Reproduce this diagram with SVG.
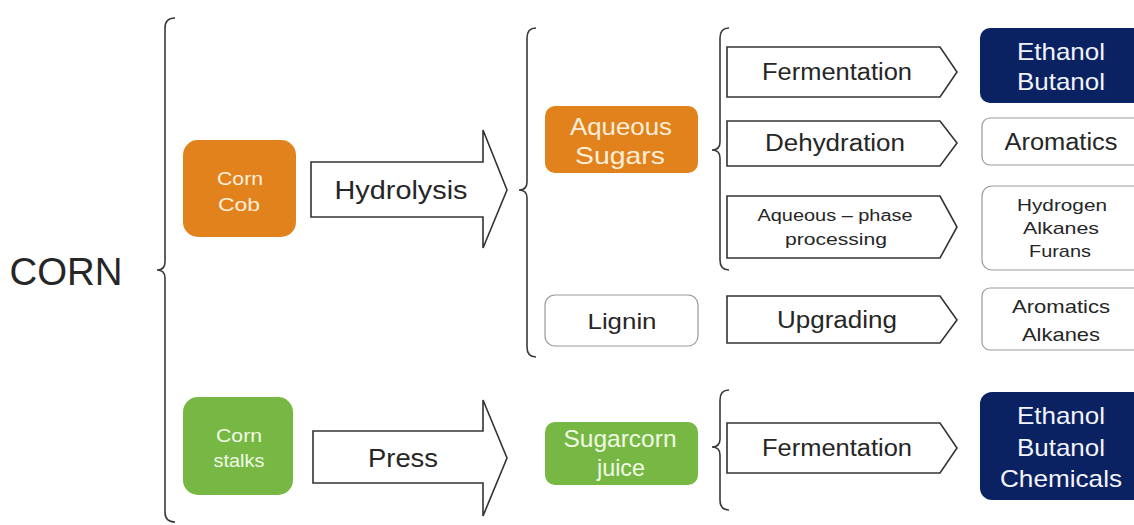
<svg xmlns="http://www.w3.org/2000/svg" width="1134" height="525" viewBox="0 0 1134 525">
<style>
text{font-family:"Liberation Sans",Arial,sans-serif;text-anchor:middle;fill:#262626}
.brace{fill:none;stroke:#3a3a3a;stroke-width:1.6}
.blk{fill:#fff;stroke:#333;stroke-width:1.6}
.orange{fill:#E2821C}
.green{fill:#76B843}
.navy{fill:#0B2262}
.wbox{fill:#fff;stroke:#9a9a9a;stroke-width:1.2}
.lt{fill:#FDEFDC}
.gt{fill:#F1FAE6}
.wt{fill:#F2F4FA}
</style>
<rect width="1134" height="525" fill="#fff"/>
<text x="66" y="285" textLength="113" lengthAdjust="spacingAndGlyphs" style="font-size:38px">CORN</text>
<g id="connectors">
<path class="brace" d="M175,18 Q165,18 165,28 L165,262 Q165,270 157,270 Q165,270 165,278 L165,512 Q165,522 175,522"/>
<path class="brace" d="M536,28 Q527,28 527,38 L527,182 Q527,190 519,190 Q527,190 527,198 L527,347 Q527,357 536,357"/>
<path class="brace" d="M729,28 Q720,28 720,38 L720,142 Q720,150 712,150 Q720,150 720,158 L720,260 Q720,270 729,270"/>
<path class="brace" d="M729,390 Q720,390 720,400 L720,439 Q720,447 712,447 Q720,447 720,455 L720,500 Q720,510 729,510"/>
</g>
<g id="hydrolysis"><polygon class="blk" points="311,162 483,162 483,130 507,190 483,248 483,217 311,217"/><text x="401" y="199" textLength="133" lengthAdjust="spacingAndGlyphs" style="font-size:25px">Hydrolysis</text></g>
<g id="press"><polygon class="blk" points="313,431 483,431 483,400 507,458 483,516 483,483 313,483"/><text x="403" y="467" textLength="70" lengthAdjust="spacingAndGlyphs" style="font-size:25px">Press</text></g>
<g id="corncob"><rect class="orange" x="183" y="140" width="113" height="97" rx="15"/><text class="lt" x="240" y="185" textLength="46" lengthAdjust="spacingAndGlyphs" style="font-size:19px">Corn</text><text class="lt" x="239" y="211" textLength="42" lengthAdjust="spacingAndGlyphs" style="font-size:19px">Cob</text></g>
<g id="cornstalks"><rect class="green" x="183" y="397" width="110" height="98" rx="15"/><text class="gt" x="239" y="442" textLength="46" lengthAdjust="spacingAndGlyphs" style="font-size:19px">Corn</text><text class="gt" x="239" y="467" textLength="51" lengthAdjust="spacingAndGlyphs" style="font-size:19px">stalks</text></g>
<g id="aqueoussugars"><rect class="orange" x="545" y="106" width="153" height="67" rx="10"/><text class="lt" x="621" y="135" textLength="102" lengthAdjust="spacingAndGlyphs" style="font-size:24px">Aqueous</text><text class="lt" x="620" y="164" textLength="90" lengthAdjust="spacingAndGlyphs" style="font-size:24px">Sugars</text></g>
<g id="lignin"><rect class="wbox" x="545" y="295" width="153" height="51" rx="10"/><text x="622" y="329" textLength="69" lengthAdjust="spacingAndGlyphs" style="font-size:22px">Lignin</text></g>
<g id="sugarcorn"><rect class="green" x="545" y="422" width="153" height="63" rx="10"/><text class="gt" x="620" y="447" textLength="113" lengthAdjust="spacingAndGlyphs" style="font-size:24px">Sugarcorn</text><text class="gt" x="621" y="476" textLength="48" lengthAdjust="spacingAndGlyphs" style="font-size:24px">juice</text></g>
<g id="fermentation1"><polygon class="blk" points="727,47 940,47 957,72 940,97 727,97"/><text x="837" y="80" textLength="150" lengthAdjust="spacingAndGlyphs" style="font-size:23px">Fermentation</text></g>
<g id="dehydration"><polygon class="blk" points="727,121 940,121 957,143 940,166 727,166"/><text x="835" y="151" textLength="140" lengthAdjust="spacingAndGlyphs" style="font-size:23px">Dehydration</text></g>
<g id="aqueousphase"><polygon class="blk" points="727,196 940,196 957,227 940,258 727,258"/><text x="835" y="221" textLength="155" lengthAdjust="spacingAndGlyphs" style="font-size:16px">Aqueous – phase</text><text x="836" y="245" textLength="102" lengthAdjust="spacingAndGlyphs" style="font-size:16px">processing</text></g>
<g id="upgrading"><polygon class="blk" points="727,296 940,296 957,320 940,343 727,343"/><text x="837" y="328" textLength="120" lengthAdjust="spacingAndGlyphs" style="font-size:23px">Upgrading</text></g>
<g id="fermentation2"><polygon class="blk" points="727,423 940,423 957,448 940,473 727,473"/><text x="837" y="456" textLength="150" lengthAdjust="spacingAndGlyphs" style="font-size:23px">Fermentation</text></g>
<g id="ethanol1"><rect class="navy" x="980" y="28" width="180" height="75" rx="10"/><text class="wt" x="1061" y="60" textLength="88" lengthAdjust="spacingAndGlyphs" style="font-size:24px">Ethanol</text><text class="wt" x="1061" y="90" textLength="88" lengthAdjust="spacingAndGlyphs" style="font-size:24px">Butanol</text></g>
<g id="aromatics1"><rect class="wbox" x="982" y="118" width="180" height="47" rx="8"/><text x="1061" y="150" textLength="113" lengthAdjust="spacingAndGlyphs" style="font-size:23px">Aromatics</text></g>
<g id="hydrogen"><rect class="wbox" x="982" y="186" width="180" height="84" rx="10"/><text x="1062" y="211" textLength="90" lengthAdjust="spacingAndGlyphs" style="font-size:17px">Hydrogen</text><text x="1061" y="234" textLength="76" lengthAdjust="spacingAndGlyphs" style="font-size:17px">Alkanes</text><text x="1060" y="257" textLength="62" lengthAdjust="spacingAndGlyphs" style="font-size:17px">Furans</text></g>
<g id="aromatics2"><rect class="wbox" x="982" y="288" width="180" height="62" rx="8"/><text x="1061" y="313" textLength="98" lengthAdjust="spacingAndGlyphs" style="font-size:19px">Aromatics</text><text x="1061" y="341" textLength="78" lengthAdjust="spacingAndGlyphs" style="font-size:19px">Alkanes</text></g>
<g id="ethanol2"><rect class="navy" x="980" y="392" width="180" height="108" rx="12"/><text class="wt" x="1061" y="424" textLength="88" lengthAdjust="spacingAndGlyphs" style="font-size:24px">Ethanol</text><text class="wt" x="1061" y="456" textLength="88" lengthAdjust="spacingAndGlyphs" style="font-size:24px">Butanol</text><text class="wt" x="1061" y="487" textLength="122" lengthAdjust="spacingAndGlyphs" style="font-size:24px">Chemicals</text></g>
</svg>
